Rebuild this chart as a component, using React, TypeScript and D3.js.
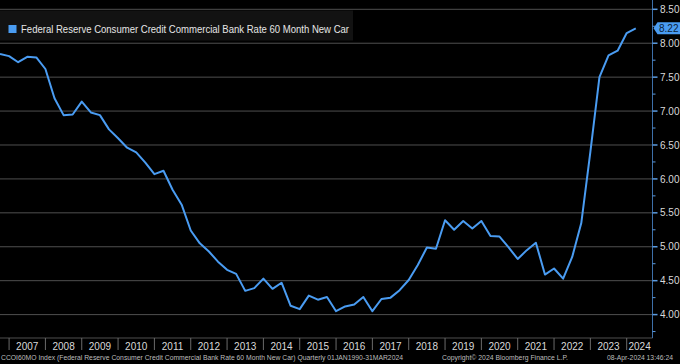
import React from "react";
import * as d3 from "d3";

// quarterly observations, first one is the 2006 Q3 quarter end
const firstQuarter = 2006.75;
const rates = [
  7.84, 7.81, 7.72, 7.8, 7.79, 7.62, 7.19, 6.94, 6.95, 7.14,
  6.98, 6.94, 6.73, 6.6, 6.46, 6.39, 6.24, 6.07, 6.12, 5.84,
  5.62, 5.24, 5.05, 4.93, 4.78, 4.66, 4.6, 4.35, 4.39, 4.53,
  4.38, 4.47, 4.13, 4.08, 4.28, 4.22, 4.26, 4.05, 4.12, 4.15,
  4.26, 4.05, 4.23, 4.25, 4.36, 4.51, 4.73, 4.99, 4.97, 5.39,
  5.25, 5.38, 5.27, 5.38, 5.16, 5.15, 4.99, 4.82, 4.95, 5.06,
  4.59, 4.68, 4.53, 4.85, 5.35, 6.4, 7.5, 7.82, 7.89, 8.15,
  8.22,
];
const years = [
  2007, 2008, 2009, 2010, 2011, 2012, 2013, 2014, 2015,
  2016, 2017, 2018, 2019, 2020, 2021, 2022, 2023, 2024,
];
const yTicks = [4.0, 4.5, 5.0, 5.5, 6.0, 6.5, 7.0, 7.5, 8.0, 8.5];
const minorTicks = [3.75, 4.25, 4.75, 5.25, 5.75, 6.25, 6.75, 7.25, 7.75, 8.25];
const seriesName =
  "Federal Reserve Consumer Credit Commercial Bank Rate 60 Month New Car";
const lastValue = "8.22";
const footerLeft =
  "CCOI60MO Index (Federal Reserve Consumer Credit Commercial Bank Rate 60 Month New Car)  Quarterly 01JAN1990-31MAR2024";
const footerMid = "Copyright\u00a9 2024 Bloomberg Finance L.P.";
const footerRight = "08-Apr-2024 13:46:24";

const W = 680;
const H = 364;
const plotRight = 652.5;
const plotBottom = 338;
const font = "'Liberation Sans', Arial, sans-serif";
const blue = "#4a9cf2";

export default function App() {
  const x = d3.scaleLinear().domain([firstQuarter, 2024]).range([0, 626.7]);
  const y = d3.scaleLinear().domain([4, 8.5]).range([314.6, 9.3]);

  const line = d3
    .line<number>()
    .x((d, i) => x(firstQuarter + 0.25 * i))
    .y((d) => y(d));

  const lastY = y(rates[rates.length - 1]);

  return (
    <div style={{ position: "fixed", left: 0, top: 0 }}>
      <svg width={W} height={H} style={{ display: "block", background: "#000" }}>
        <rect width={W} height={H} fill="#000" />

        {/* grid */}
        {yTicks.map((v) => (
          <line
            key={v}
            x1={0}
            x2={plotRight}
            y1={y(v)}
            y2={y(v)}
            stroke="#4f4f4f"
            strokeWidth={1}
          />
        ))}

        {/* legend */}
        <rect x={0} y={10.5} width={353} height={30} fill="#121212" />
        <rect x={8.5} y={25} width={8} height={8} fill={blue} />
        <text
          x={21}
          y={33}
          fill="#e6e6e6"
          fontSize={11}
          fontFamily={font}
          textLength={328}
          lengthAdjust="spacingAndGlyphs"
        >
          {seriesName}
        </text>

        {/* series */}
        <path
          d={line(rates) ?? ""}
          fill="none"
          stroke={blue}
          strokeWidth={2}
          strokeLinejoin="round"
        />

        {/* x axis band */}
        <line x1={0} x2={plotRight} y1={plotBottom} y2={plotBottom} stroke="#4f4f4f" />
        {years.map((yr) => {
          const x0 = x(yr);
          const x1 = Math.min(x(yr + 1), plotRight);
          return (
            <g key={yr}>
              <line x1={x0} x2={x0} y1={plotBottom} y2={350} stroke="#6a6a6a" />
              <text
                x={(x0 + x1) / 2}
                y={350}
                textAnchor="middle"
                fill="#d9d9d9"
                fontSize={10}
                fontFamily={font}
              >
                {yr}
              </text>
            </g>
          );
        })}

        {/* y axis */}
        <line x1={plotRight} x2={plotRight} y1={0} y2={plotBottom} stroke="#3d6fa8" />
        {minorTicks.map((v) => (
          <line
            key={v}
            x1={plotRight}
            x2={plotRight + 3}
            y1={y(v)}
            y2={y(v)}
            stroke="#5b9be0"
          />
        ))}
        {yTicks.map((v) => (
          <g key={v}>
            <line
              x1={plotRight}
              x2={plotRight + 5}
              y1={y(v)}
              y2={y(v)}
              stroke="#5b9be0"
              strokeWidth={1.5}
            />
            <text
              x={660}
              y={y(v) + 3.6}
              fill="#d9d9d9"
              fontSize={10}
              fontFamily={font}
            >
              {v.toFixed(2)}
            </text>
          </g>
        ))}

        {/* last value tag */}
        <path
          d={`M${plotRight + 1},${lastY} L${plotRight + 5},${lastY - 6} L${W},${lastY - 6} L${W},${lastY + 6} L${plotRight + 5},${lastY + 6} Z`}
          fill={blue}
        />
        <text x={659} y={lastY + 3.6} fill="#0b1f3a" fontSize={10} fontFamily={font}>
          {lastValue}
        </text>

        {/* footer */}
        <text
          x={1}
          y={360}
          fill="#bdbdbd"
          fontSize={7}
          fontFamily={font}
          textLength={402}
          lengthAdjust="spacingAndGlyphs"
        >
          {footerLeft}
        </text>
        <text
          x={442}
          y={360}
          fill="#bdbdbd"
          fontSize={7}
          fontFamily={font}
          textLength={126}
          lengthAdjust="spacingAndGlyphs"
        >
          {footerMid}
        </text>
        <text
          x={607}
          y={360}
          fill="#bdbdbd"
          fontSize={7}
          fontFamily={font}
          textLength={66}
          lengthAdjust="spacingAndGlyphs"
        >
          {footerRight}
        </text>
      </svg>
    </div>
  );
}
